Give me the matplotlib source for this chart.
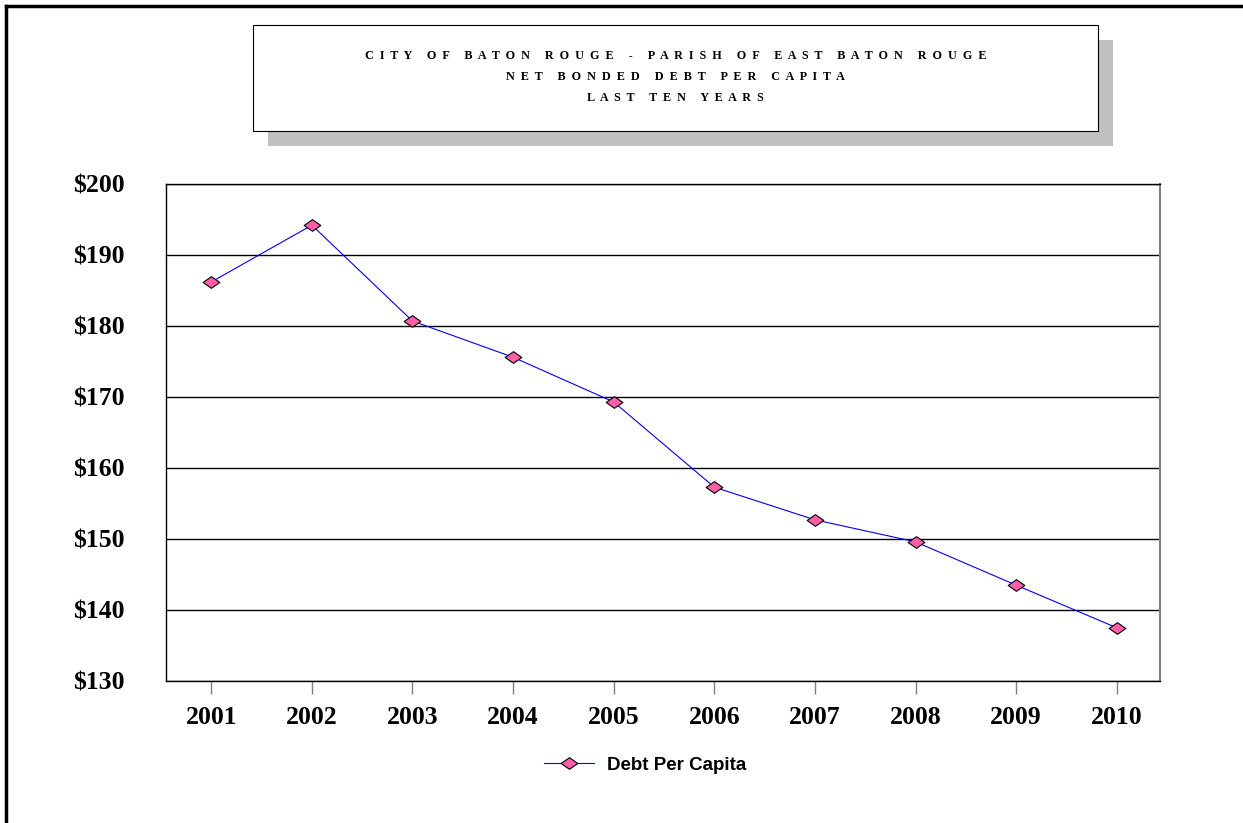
import matplotlib
matplotlib.use("Agg")
import matplotlib.pyplot as plt
from matplotlib.patches import Rectangle
from matplotlib.lines import Line2D
from matplotlib.path import Path

years = [2001, 2002, 2003, 2004, 2005, 2006, 2007, 2008, 2009, 2010]
debt_per_capita = [186.2, 194.2, 180.7, 175.6, 169.3, 157.3, 152.7, 149.6, 143.5, 137.5]
y_ticks = [130, 140, 150, 160, 170, 180, 190, 200]
title_lines = [
    "CITY OF BATON ROUGE - PARISH OF EAST BATON ROUGE",
    "NET BONDED DEBT PER CAPITA",
    "LAST TEN YEARS",
]
series_label = "Debt Per Capita"

W, H = 1243, 823


def spaced(s):
    # spread the letters out like the original heading
    return "     ".join("  ".join(w) for w in s.split(" "))


diamond = Path([(-1, 0), (0, 0.7), (1, 0), (0, -0.7), (-1, 0)],
               [Path.MOVETO, Path.LINETO, Path.LINETO, Path.LINETO, Path.CLOSEPOLY])

fig = plt.figure(figsize=(W / 100, H / 100), dpi=100)

# outer frame (left and top only, like the source)
fig.add_artist(Line2D([6 / W, 6 / W], [0, 1 - 6 / H], color="black", lw=2.5,
                      transform=fig.transFigure))
fig.add_artist(Line2D([6 / W, 1], [1 - 6 / H, 1 - 6 / H], color="black", lw=2.5,
                      transform=fig.transFigure))

# title box with shadow
bx, by, bw, bh = 253 / W, 1 - 131 / H, 845 / W, 106 / H
fig.add_artist(Rectangle((bx + 15 / W, by - 15 / H), bw, bh, facecolor="#c0c0c0",
                         edgecolor="none", transform=fig.transFigure))
fig.add_artist(Rectangle((bx, by), bw, bh, facecolor="white", edgecolor="black",
                         lw=0.8, transform=fig.transFigure))
for i, line in enumerate(title_lines):
    fig.text(bx + bw / 2, 1 - (56 + 20.8 * i) / H, spaced(line), ha="center", va="center",
             fontsize=8.7, fontweight="bold", family="Liberation Serif")

ax = fig.add_axes([166 / W, 1 - 681 / H, 994 / W, 497 / H])
ax.plot(years, debt_per_capita, color="#0000ff", lw=0.8, marker=diamond,
        markersize=12, markerfacecolor="#ff5fa8", markeredgecolor="black",
        markeredgewidth=0.8, label=series_label)

ax.set_ylim(130, 200)
ax.set_xlim(years[0] - 0.45, years[-1] + 0.43)
ax.set_yticks(y_ticks)
ax.set_yticklabels([f"${v}" for v in y_ticks])
ax.set_xticks(years)
ax.set_xticklabels([str(y) for y in years])
ax.yaxis.grid(True, color="black", lw=1)
ax.set_axisbelow(True)

for lab in ax.get_xticklabels() + ax.get_yticklabels():
    lab.set_family("Liberation Serif")
    lab.set_fontweight("bold")
    lab.set_fontsize(18.5)

ax.tick_params(axis="y", length=0, pad=30)
ax.tick_params(axis="x", length=9, width=1, color="#808080", pad=9)
for side in ["left", "bottom", "top"]:
    ax.spines[side].set_color("black")
    ax.spines[side].set_linewidth(1)
ax.spines["right"].set_color("#808080")
ax.spines["right"].set_linewidth(1.5)

fig.legend(loc="center", bbox_to_anchor=(645 / W, 1 - 765 / H), frameon=False,
           prop={"family": "Liberation Sans", "weight": "bold", "size": 13.5},
           handlelength=2.7, handletextpad=0.7)

fig.savefig("out.png", dpi=100)
